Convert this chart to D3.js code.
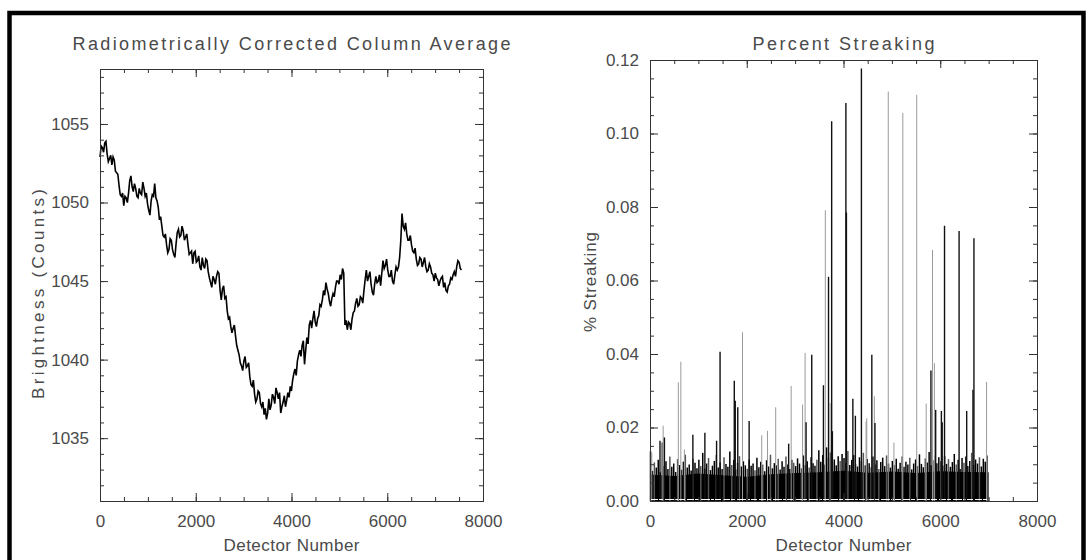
<!DOCTYPE html>
<html>
<head>
<meta charset="utf-8">
<script src="https://cdn.jsdelivr.net/npm/d3@7"></script>
<style>
  html, body { margin: 0; padding: 0; background: #fff; }
  svg { display: block; }
  text { font-family: "Liberation Sans", Arial, sans-serif; fill: #4a4a4a; }
</style>
</head>
<body>
<svg id="chart" width="1089" height="560"></svg>
<script>
// detector span of each panel
const columnEnd = 7550;
const streakEnd = 7000;

// column average brightness, evenly sampled from detector 0 to columnEnd
const brightness = [
  1052.9, 1053.6, 1053.5, 1053.2, 1053.8, 1053.9, 1053.1, 1052.6, 1052.8, 1053.0,
  1052.4, 1052.9, 1052.7, 1052.0, 1051.9, 1051.8, 1051.1, 1050.5, 1050.4, 1050.6,
  1049.8, 1050.4, 1050.3, 1050.0, 1050.6, 1051.4, 1051.7, 1051.0, 1050.7, 1051.2,
  1050.9, 1050.4, 1050.3, 1050.9, 1050.6, 1050.5, 1051.3, 1050.9, 1050.4, 1050.6,
  1049.9, 1049.5, 1049.2, 1050.1, 1050.5, 1050.4, 1051.2, 1050.3, 1050.1, 1049.7,
  1048.9, 1049.1, 1048.5, 1047.9, 1047.8, 1048.0, 1047.3, 1046.8, 1047.0, 1047.7,
  1047.6, 1047.0, 1046.7, 1046.5, 1047.4, 1048.1, 1048.3, 1047.8, 1047.9, 1048.5,
  1048.2, 1047.6, 1047.8, 1048.0, 1047.3, 1046.7, 1046.8, 1046.9, 1046.1, 1046.8,
  1046.9, 1046.2, 1046.3, 1046.6, 1045.9, 1045.7, 1046.5, 1046.0, 1045.8, 1046.4,
  1046.3, 1045.6, 1045.2, 1044.9, 1044.6, 1045.3, 1045.1, 1044.8, 1045.3, 1045.6,
  1045.5, 1044.4, 1043.8, 1044.5, 1044.7, 1043.9, 1044.0, 1043.1, 1042.6, 1042.7,
  1042.1, 1041.7, 1042.0, 1042.2, 1041.5, 1040.9, 1040.6, 1040.3, 1039.8, 1039.6,
  1039.3, 1039.9, 1040.2, 1039.5, 1039.6, 1039.8, 1038.9, 1038.4, 1038.3, 1038.7,
  1037.8, 1037.3, 1037.5, 1038.0, 1037.9, 1037.2, 1037.0, 1037.3, 1036.5, 1036.9,
  1036.2, 1036.6, 1037.5, 1036.8, 1037.1, 1037.8, 1037.6, 1037.2, 1038.2, 1037.9,
  1037.5, 1037.9, 1036.6, 1037.0, 1037.3, 1037.7, 1037.0, 1037.4, 1037.9, 1037.6,
  1038.3, 1038.0, 1038.7, 1039.1, 1039.4, 1039.0, 1039.9, 1040.3, 1040.6, 1040.2,
  1040.9, 1041.2, 1039.7, 1040.6, 1041.4, 1041.0, 1042.2, 1042.5, 1042.0, 1042.6,
  1043.1, 1042.4, 1042.1, 1042.6, 1042.8, 1043.5, 1043.4, 1043.8, 1044.4, 1044.1,
  1044.9, 1044.5, 1044.2, 1043.7, 1043.4, 1043.9, 1044.2, 1044.0, 1044.6, 1045.0,
  1045.0, 1044.8, 1045.4, 1045.1, 1045.8, 1045.5, 1042.2, 1042.5, 1041.9, 1042.4,
  1042.3, 1041.9, 1042.6, 1043.0, 1043.1, 1043.6, 1043.9, 1043.4, 1043.5, 1044.0,
  1043.9, 1043.6, 1044.4, 1045.1, 1045.7, 1045.0, 1045.3, 1045.6, 1044.8, 1044.3,
  1044.1, 1044.8, 1045.3, 1044.9, 1045.0, 1045.4, 1044.7, 1045.5, 1046.3, 1045.8,
  1046.0, 1046.4, 1045.7, 1045.3, 1045.3, 1045.7, 1045.0, 1044.8, 1045.4, 1045.9,
  1045.7, 1045.9, 1046.5, 1047.6, 1049.3, 1048.5, 1048.3, 1048.7, 1048.0, 1047.6,
  1047.6, 1047.9, 1047.3, 1046.9, 1046.8, 1047.1, 1046.4, 1046.0, 1046.1, 1046.5,
  1046.4, 1045.9, 1046.2, 1046.5, 1045.9, 1045.6, 1045.7, 1046.1, 1045.9, 1045.5,
  1045.4, 1045.0, 1045.5, 1045.2, 1045.1, 1044.7, 1045.0, 1045.2, 1045.3, 1044.6,
  1044.9, 1044.4, 1044.3, 1044.7, 1044.8, 1045.2, 1045.1, 1045.4, 1045.6, 1045.3,
  1045.9, 1046.3, 1046.2, 1045.8, 1045.7
];

// percent streaking: dense background noise, one value every 40 detectors
const noisePeaks = [
  .0135, .0082, .0105, .0091, .0112, .0078, .0159, .0095, .0108, .0087, .0121, .0093, .0102,
  .0079, .0114, .0098, .0085, .0107, .0126, .0091, .0099, .0083, .0115, .0104, .0089,
  .0112, .0095, .0131, .0088, .0102, .0117, .0084, .0096, .0109, .0125, .0091, .0105, .0087,
  .0119, .0101, .0093, .0135, .0098, .0112, .0086, .0104, .0122, .0094, .0108, .0097,
  .0088, .0113, .0096, .0102, .0084, .0118, .0092, .0107, .0099, .0081, .0111, .0094, .0126,
  .0089, .0103, .0097, .0115, .0086, .0108, .0093, .0121, .0099, .0087, .0112, .0104,
  .0095, .0116, .0102, .0089, .0124, .0098, .0108, .0091, .0119, .0103, .0096, .0112, .0138,
  .0107, .0125, .0099, .0146, .0118, .0132, .0105, .0113, .0097, .0122, .0109, .0128,
  .0117, .0104, .0136, .0098, .0112, .0125, .0101, .0094, .0119, .0108, .0131, .0097, .0114,
  .0103, .0092, .0121, .0099, .0111, .0087, .0106, .0118, .0095, .0124, .0102, .0091,
  .0109, .0098, .0115, .0088, .0104, .0121, .0093, .0107, .0099, .0118, .0086, .0102, .0113,
  .0095, .0127, .0101, .0092, .0116, .0105, .0133, .0097, .0111, .0124, .0103, .0119,
  .0108, .0096, .0122, .0101, .0114, .0093, .0106, .0128, .0099, .0112, .0087, .0117, .0104,
  .0121, .0095, .0109, .0131, .0098, .0113, .0102, .0119, .0094, .0115, .0107, .0124
];
const noiseStep = 40;

// solid part of the noise, one value every 500 detectors
const noiseFloor = [.0072, .0068, .0075, .0070, .0066, .0073, .0076, .0078, .0082, .0077, .0080, .0076, .0081, .0079, .0078];
const floorStep = 500;

// individual streaking spikes: [detector, percent, shade]
const spikes = [
  [26, .0132, "g"], [196, .0164, "k"], [261, .0205, "g"], [288, .0173, "k"],
  [575, .0323, "g"], [627, .0379, "g"], [700, .0140, "g"], [876, .0180, "k"],
  [1124, .0186, "k"], [1366, .0164, "k"], [1438, .0406, "k"], [1732, .0327, "k"],
  [1752, .0273, "k"], [1804, .0255, "k"], [1902, .0459, "g"], [2039, .0218, "k"],
  [2300, .0179, "g"], [2418, .0191, "g"], [2588, .0255, "g"], [2856, .0156, "k"],
  [2908, .0313, "g"], [3144, .0262, "g"], [3196, .0403, "g"], [3216, .0214, "k"],
  [3333, .0398, "k"], [3575, .0315, "k"], [3614, .0791, "g"], [3680, .0610, "k"],
  [3712, .0266, "g"], [3745, .1033, "k"], [3760, .0190, "k"], [4039, .1083, "k"],
  [4050, .0785, "k"], [4183, .0278, "k"], [4235, .0232, "k"], [4360, .1177, "k"],
  [4457, .0216, "g"], [4470, .0225, "g"], [4575, .0398, "k"], [4627, .0285, "g"],
  [4640, .0212, "k"], [4915, .1114, "g"], [5032, .0159, "g"], [5216, .1056, "g"],
  [5503, .1105, "g"], [5699, .0265, "g"], [5797, .0355, "k"], [5830, .0683, "g"],
  [5869, .0375, "g"], [5895, .0248, "k"], [6013, .0245, "k"], [6030, .0214, "k"],
  [6078, .0749, "k"], [6379, .0735, "k"], [6536, .0245, "k"], [6666, .0303, "k"],
  [6686, .0715, "k"], [6947, .0324, "g"]
];

const xTicks = [0, 2000, 4000, 6000, 8000];
const xMinorTicks = d3.range(0, 8001, 500);
const leftTicks = [1035, 1040, 1045, 1050, 1055];
const leftMinorTicks = d3.range(1032, 1059, 1);
const rightTicks = [0, 0.02, 0.04, 0.06, 0.08, 0.10, 0.12];
const rightMinorTicks = d3.range(0, 0.1201, 0.005);

const svg = d3.select("#chart");

// outer frame
svg.append("rect")
  .attr("x", 9.5).attr("y", 13)
  .attr("width", 1074).attr("height", 600)
  .attr("fill", "none")
  .attr("stroke", "#000")
  .attr("stroke-width", 4.5);

function boxAxes(x, y, opts) {
  const [x0, x1] = x.range();
  const [y0, y1] = y.range();
  const g = svg.append("g");

  const tick = (sel) => sel.select(".domain").remove();
  const style = (sel) => {
    sel.selectAll("line").attr("stroke", "#333").attr("stroke-width", 1);
    sel.selectAll("text").style("font-size", "17px").attr("fill", "#4a4a4a");
  };

  g.append("g").attr("transform", `translate(0,${y0})`)
    .call(d3.axisBottom(x).tickValues(xMinorTicks).tickSize(-4).tickFormat("")).call(tick).call(style);
  g.append("g").attr("transform", `translate(0,${y0})`)
    .call(d3.axisBottom(x).tickValues(xTicks).tickSize(-8).tickPadding(14).tickFormat(d3.format("d"))).call(tick).call(style);
  g.append("g").attr("transform", `translate(0,${y1})`)
    .call(d3.axisTop(x).tickValues(xMinorTicks).tickSize(-4).tickFormat("")).call(tick).call(style);
  g.append("g").attr("transform", `translate(0,${y1})`)
    .call(d3.axisTop(x).tickValues(xTicks).tickSize(-8).tickFormat("")).call(tick).call(style);

  g.append("g").attr("transform", `translate(${x0},0)`)
    .call(d3.axisLeft(y).tickValues(opts.minor).tickSize(-4).tickFormat("")).call(tick).call(style);
  g.append("g").attr("transform", `translate(${x0},0)`)
    .call(d3.axisLeft(y).tickValues(opts.major).tickSize(-8).tickPadding(11).tickFormat(opts.fmt)).call(tick).call(style);
  g.append("g").attr("transform", `translate(${x1},0)`)
    .call(d3.axisRight(y).tickValues(opts.minor).tickSize(-4).tickFormat("")).call(tick).call(style);
  g.append("g").attr("transform", `translate(${x1},0)`)
    .call(d3.axisRight(y).tickValues(opts.major).tickSize(-8).tickFormat("")).call(tick).call(style);

  g.append("rect")
    .attr("x", x0 + 0.5).attr("y", y1 + 0.5)
    .attr("width", x1 - x0).attr("height", y0 - y1)
    .attr("fill", "none").attr("stroke", "#333").attr("stroke-width", 1);

  svg.append("text")
    .attr("x", (x0 + x1) / 2).attr("y", 50)
    .attr("text-anchor", "middle")
    .attr("textLength", opts.titleLen).attr("lengthAdjust", "spacing")
    .style("font-size", "18px")
    .text(opts.title);

  svg.append("text")
    .attr("x", (x0 + x1) / 2).attr("y", 551)
    .attr("text-anchor", "middle")
    .attr("textLength", 136).attr("lengthAdjust", "spacing")
    .style("font-size", "17px")
    .text("Detector Number");

  svg.append("text")
    .attr("transform", `translate(${opts.ylabelX},${opts.ylabelY}) rotate(-90)`)
    .attr("text-anchor", "middle")
    .attr("textLength", opts.ylabelLen).attr("lengthAdjust", "spacing")
    .style("font-size", "17px")
    .text(opts.ylabel);
}

// ---- left panel: column average ----
const xL = d3.scaleLinear().domain([0, 8000]).range([100, 483]);
const yL = d3.scaleLinear().domain([1031, 1058.5]).range([501, 69]);
const sampleStep = columnEnd / (brightness.length - 1);

svg.append("path")
  .datum(brightness)
  .attr("fill", "none")
  .attr("stroke", "#000")
  .attr("stroke-width", 1.6)
  .attr("stroke-linejoin", "miter")
  .attr("d", d3.line().x((d, i) => xL(i * sampleStep)).y(d => yL(d)));

boxAxes(xL, yL, {
  major: leftTicks, minor: leftMinorTicks, fmt: d3.format("d"),
  title: "Radiometrically Corrected Column Average", titleLen: 438,
  ylabel: "Brightness (Counts)", ylabelX: 44, ylabelY: 294, ylabelLen: 210
});

// ---- right panel: percent streaking ----
const xR = d3.scaleLinear().domain([0, 8000]).range([650, 1037]);
const yR = d3.scaleLinear().domain([0, 0.12]).range([501, 60]);

svg.append("path")
  .datum(noiseFloor)
  .attr("fill", "#000")
  .attr("d", d3.area()
    .x((d, i) => xR(Math.min(i * floorStep, streakEnd)))
    .y0(yR(0))
    .y1(d => yR(d)));

svg.append("g")
  .selectAll("line")
  .data(noisePeaks)
  .join("line")
  .attr("x1", (d, i) => xR(i * noiseStep) + 0.5)
  .attr("x2", (d, i) => xR(i * noiseStep) + 0.5)
  .attr("y1", yR(0))
  .attr("y2", d => yR(d))
  .attr("stroke", (d, i) => i % 4 === 2 ? "#555" : "#000")
  .attr("stroke-width", 1.5);

svg.append("g")
  .selectAll("line")
  .data(spikes)
  .join("line")
  .attr("x1", d => xR(d[0]) + 0.5)
  .attr("x2", d => xR(d[0]) + 0.5)
  .attr("y1", yR(0))
  .attr("y2", d => yR(d[1]))
  .attr("stroke", d => d[2] === "g" ? "#9a9a9a" : "#111")
  .attr("stroke-width", d => d[2] === "g" ? 1 : 1.4);

// thin speckled band just above the zero line
svg.append("line")
  .attr("x1", xR(0) + 1).attr("x2", xR(streakEnd))
  .attr("y1", yR(0) - 1.5).attr("y2", yR(0) - 1.5)
  .attr("stroke", "#fff")
  .attr("stroke-width", 1)
  .attr("stroke-dasharray", "7,1,4,2,9,1,3,1,6,2");

boxAxes(xR, yR, {
  major: rightTicks, minor: rightMinorTicks, fmt: d3.format(".2f"),
  title: "Percent Streaking", titleLen: 182,
  ylabel: "% Streaking", ylabelX: 596, ylabelY: 282, ylabelLen: 100
});
</script>
</body>
</html>
